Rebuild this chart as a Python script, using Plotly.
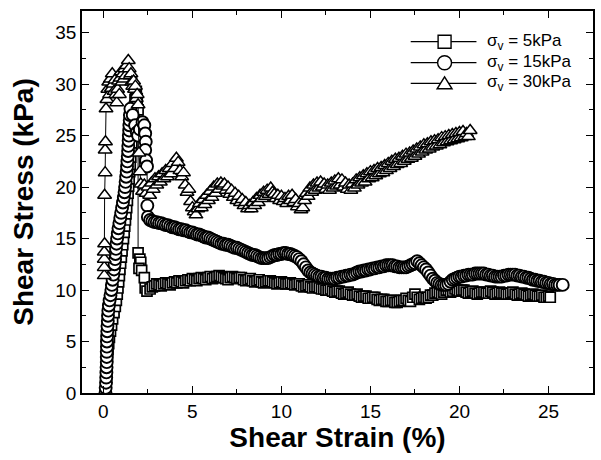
import plotly.graph_objects as go

# ---------------- data ----------------
# sigma_v = 5 kPa (squares)
sq_x = [0.15, 0.15, 0.16, 0.17, 0.19, 0.2, 0.23, 0.26, 0.3, 0.34, 0.4, 0.46, 0.52, 0.6, 0.67,
        0.73, 0.78, 0.82, 0.86, 0.9, 0.93, 0.97, 1.01, 1.05, 1.09, 1.13, 1.17, 1.2, 1.24, 1.27,
        1.31, 1.35, 1.39, 1.42, 1.45, 1.48, 1.51, 1.54, 1.57, 1.6, 1.63, 1.66, 1.69, 1.72, 1.75,
        1.78, 1.81, 1.85, 1.9, 1.95,
        1.95, 2.05, 2.1, 2.0, 2.15, 2.3, 2.35, 2.45,
        2.625, 2.75, 2.875, 3.0, 3.125, 3.25, 3.375, 3.5,
        3.625, 3.75, 3.875, 4.0, 4.125, 4.25, 4.375, 4.5,
        4.625, 4.75, 4.875, 5.0, 5.125, 5.25, 5.375, 5.5,
        5.625, 5.75, 5.875, 6.0, 6.125, 6.25, 6.375, 6.5,
        6.625, 6.75, 6.875, 7.0, 7.125, 7.25, 7.375, 7.5,
        7.625, 7.75, 7.875, 8.0, 8.125, 8.25, 8.375, 8.5,
        8.625, 8.75, 8.875, 9.0, 9.125, 9.25, 9.375, 9.5,
        9.625, 9.75, 9.875, 10.0, 10.125, 10.25, 10.375, 10.5,
        10.625, 10.75, 10.875, 11.0, 11.125, 11.25, 11.375, 11.5,
        11.625, 11.75, 11.875, 12.0, 12.125, 12.25, 12.375, 12.5,
        12.625, 12.75, 12.875, 13.0, 13.125, 13.25, 13.375, 13.5,
        13.625, 13.75, 13.875, 14.0, 14.125, 14.25, 14.375, 14.5,
        14.625, 14.75, 14.875, 15.0, 15.125, 15.25, 15.375, 15.5,
        15.625, 15.75, 15.875, 16.0, 16.125, 16.25, 16.375, 16.5,
        16.625, 16.75, 16.875, 17.0, 17.125, 17.25, 17.375, 17.5,
        17.625, 17.75, 17.875, 18.0, 18.125, 18.25, 18.375, 18.5,
        18.625, 18.75, 18.875, 19.0, 19.125, 19.25, 19.375, 19.5,
        19.625, 19.75, 19.875, 20.0, 20.125, 20.25, 20.375, 20.5,
        20.625, 20.75, 20.875, 21.0, 21.125, 21.25, 21.375, 21.5,
        21.625, 21.75, 21.875, 22.0, 22.125, 22.25, 22.375, 22.5,
        22.625, 22.75, 22.875, 23.0, 23.125, 23.25, 23.375, 23.5,
        23.625, 23.75, 23.875, 24.0, 24.125, 24.25, 24.375, 24.5,
        24.625, 24.75, 24.875, 25.0, 25.1]
sq_y = [0.0, 0.6, 1.2, 1.8, 2.4, 3.0, 3.6, 4.2, 4.8, 5.4, 6.0, 6.6, 7.2, 7.8, 8.4,
        9.0, 9.6, 10.2, 10.8, 11.4, 12.0, 12.6, 13.2, 13.8, 14.4, 15.0, 15.6, 16.2, 16.8, 17.4,
        18.0, 18.7, 19.4, 20.1, 20.8, 21.5, 22.2, 22.9, 23.6, 24.3, 25.0, 25.7, 26.4, 27.1, 27.8,
        28.5, 29.1, 29.3, 28.6, 27.5,
        13.6, 13.0, 12.7, 12.1, 11.9, 11.2, 10.2, 9.9,
        10.1, 10.3, 10.4, 10.6, 10.5, 10.4, 10.6, 10.7,
        10.6, 10.5, 10.7, 10.8, 10.7, 10.9, 10.8, 10.7,
        10.9, 11.0, 10.9, 11.1, 11.0, 10.9, 11.1, 11.2,
        11.1, 11.0, 11.2, 11.3, 11.1, 11.2, 11.3, 11.4,
        11.3, 11.2, 11.1, 11.0, 11.2, 11.3, 11.2, 11.1,
        11.2, 11.2, 11.0, 10.9, 11.0, 11.1, 10.9, 10.8,
        10.9, 11.0, 10.8, 10.7, 10.8, 10.9, 10.9, 10.8,
        10.7, 10.6, 10.7, 10.8, 10.7, 10.6, 10.6, 10.7,
        10.6, 10.5, 10.6, 10.6, 10.4, 10.3, 10.4, 10.5,
        10.3, 10.2, 10.3, 10.3, 10.2, 10.1, 10.1, 10.0,
        10.0, 10.1, 9.9, 9.8, 9.9, 9.9, 9.7, 9.6,
        9.7, 9.8, 9.6, 9.5, 9.5, 9.6, 9.4, 9.3,
        9.4, 9.4, 9.2, 9.2, 9.3, 9.3, 9.1, 9.0,
        9.1, 9.1, 8.9, 8.9, 9.0, 9.0, 8.8, 8.8,
        8.9, 9.0, 9.0, 9.2, 9.0, 8.9, 9.3, 9.6,
        9.3, 9.1, 9.2, 9.3, 9.2, 9.3, 9.5, 9.5,
        9.7, 9.8, 9.7, 9.6, 9.8, 10.0, 10.0, 9.8,
        9.9, 10.1, 10.0, 9.9, 10.0, 10.0, 9.8, 9.7,
        9.8, 9.9, 9.7, 9.6, 9.7, 9.8, 9.8, 9.7,
        9.7, 9.9, 9.8, 9.6, 9.7, 9.8, 9.7, 9.7,
        9.6, 9.6, 9.7, 9.8, 9.6, 9.5, 9.6, 9.7,
        9.6, 9.5, 9.4, 9.5, 9.6, 9.5, 9.4, 9.4,
        9.5, 9.3, 9.3, 9.4, 9.3]

# sigma_v = 15 kPa (circles)
ci_x = [0.12, 0.13, 0.15, 0.16, 0.17, 0.18, 0.19, 0.19, 0.19, 0.2, 0.2, 0.21, 0.22, 0.23, 0.25,
        0.26, 0.28, 0.31, 0.35, 0.4, 0.45, 0.48, 0.52, 0.56, 0.6, 0.63, 0.66, 0.68, 0.71, 0.74,
        0.77, 0.81, 0.85, 0.9, 0.95, 1.0, 1.05, 1.1, 1.15, 1.19, 1.22, 1.25, 1.28, 1.31, 1.33,
        1.35, 1.37, 1.39, 1.4, 1.42, 1.43, 1.45, 1.46, 1.48, 1.49, 1.52,
        1.65, 1.78, 1.88, 1.95, 2.05, 2.2, 2.3, 2.35, 2.38, 2.35, 2.4, 2.45, 2.47, 2.47, 2.5,
        2.625, 2.75, 2.875, 3.0, 3.125, 3.25, 3.375, 3.5,
        3.625, 3.75, 3.875, 4.0, 4.125, 4.25, 4.375, 4.5,
        4.625, 4.75, 4.875, 5.0, 5.125, 5.25, 5.375, 5.5,
        5.625, 5.75, 5.875, 6.0, 6.125, 6.25, 6.375, 6.5,
        6.625, 6.75, 6.875, 7.0, 7.125, 7.25, 7.375, 7.5,
        7.625, 7.75, 7.875, 8.0, 8.125, 8.25, 8.375, 8.5,
        8.625, 8.75, 8.875, 9.0, 9.125, 9.25, 9.375, 9.5,
        9.625, 9.75, 9.875, 10.0, 10.125, 10.25, 10.375, 10.5,
        10.625, 10.75, 10.875, 11.0, 11.125, 11.25, 11.375, 11.5,
        11.625, 11.75, 11.875, 12.0, 12.125, 12.25, 12.375, 12.5,
        12.625, 12.75, 12.875, 13.0, 13.125, 13.25, 13.375, 13.5,
        13.625, 13.75, 13.875, 14.0, 14.125, 14.25, 14.375, 14.5,
        14.625, 14.75, 14.875, 15.0, 15.125, 15.25, 15.375, 15.5,
        15.625, 15.75, 15.875, 16.0, 16.125, 16.25, 16.375, 16.5,
        16.625, 16.75, 16.875, 17.0, 17.125, 17.25, 17.375, 17.5,
        17.625, 17.75, 17.875, 18.0, 18.125, 18.25, 18.375, 18.5,
        18.625, 18.75, 18.875, 19.0, 19.125, 19.25, 19.375, 19.5,
        19.625, 19.75, 19.875, 20.0, 20.125, 20.25, 20.375, 20.5,
        20.625, 20.75, 20.875, 21.0, 21.125, 21.25, 21.375, 21.5,
        21.625, 21.75, 21.875, 22.0, 22.125, 22.25, 22.375, 22.5,
        22.625, 22.75, 22.875, 23.0, 23.125, 23.25, 23.375, 23.5,
        23.625, 23.75, 23.875, 24.0, 24.125, 24.25, 24.375, 24.5,
        24.625, 24.75, 24.875, 25.0, 25.125, 25.25, 25.375, 25.5,
        25.625, 25.8]
ci_y = [0.0, 0.5, 1.0, 1.5, 2.0, 2.5, 3.0, 3.5, 4.0, 4.5, 5.0, 5.5, 6.0, 6.5, 7.0,
        7.5, 8.0, 8.5, 9.0, 9.5, 10.0, 10.5, 11.0, 11.5, 12.0, 12.5, 13.0, 13.5, 14.0, 14.5,
        15.0, 15.5, 16.0, 16.5, 17.0, 17.5, 18.0, 18.5, 19.0, 19.5, 20.0, 20.5, 21.0, 21.5, 22.0,
        22.5, 23.0, 23.5, 24.0, 24.5, 25.0, 25.5, 26.0, 26.5, 27.0, 27.6,
        27.0, 26.0, 25.3, 25.0, 25.6, 26.3, 26.0, 25.2, 24.4, 23.6, 22.6, 22.0, 19.5, 18.2, 17.1,
        16.8, 16.7, 16.6, 16.6, 16.5, 16.5, 16.4, 16.3,
        16.3, 16.2, 16.1, 16.1, 16.0, 15.9, 15.9, 15.8,
        15.8, 15.7, 15.6, 15.6, 15.5, 15.4, 15.4, 15.3,
        15.2, 15.1, 15.1, 15.0, 14.9, 14.8, 14.7, 14.6,
        14.5, 14.5, 14.4, 14.4, 14.3, 14.2, 14.1, 14.1,
        14.0, 13.9, 13.8, 13.7, 13.6, 13.5, 13.4, 13.4,
        13.3, 13.2, 13.1, 13.1, 13.1, 13.1, 13.2, 13.3,
        13.4, 13.4, 13.5, 13.5, 13.6, 13.6, 13.5, 13.5,
        13.4, 13.3, 13.2, 13.0, 12.8, 12.5, 12.2, 11.9,
        11.7, 11.6, 11.5, 11.4, 11.3, 11.3, 11.2, 11.2,
        11.1, 11.1, 11.1, 11.1, 11.2, 11.2, 11.3, 11.3,
        11.4, 11.4, 11.5, 11.5, 11.6, 11.7, 11.8, 11.8,
        11.9, 11.9, 12.0, 12.0, 12.1, 12.1, 12.2, 12.2,
        12.3, 12.3, 12.4, 12.4, 12.4, 12.4, 12.3, 12.3,
        12.2, 12.2, 12.2, 12.2, 12.3, 12.4, 12.5, 12.6,
        12.8, 12.6, 12.4, 12.2, 12.0, 11.7, 11.4, 11.1,
        10.9, 10.7, 10.6, 10.5, 10.5, 10.5, 10.6, 10.8,
        11.0, 11.1, 11.2, 11.3, 11.3, 11.4, 11.4, 11.5,
        11.5, 11.5, 11.6, 11.6, 11.6, 11.6, 11.6, 11.5,
        11.5, 11.4, 11.4, 11.3, 11.3, 11.3, 11.3, 11.4,
        11.4, 11.5, 11.5, 11.5, 11.5, 11.4, 11.4, 11.3,
        11.3, 11.2, 11.2, 11.1, 11.0, 11.0, 10.9, 10.9,
        10.8, 10.8, 10.7, 10.7, 10.6, 10.6, 10.5, 10.5,
        10.5, 10.5]

# sigma_v = 30 kPa (triangles)
tr_x = [0.05, 0.05, 0.05, 0.05, 0.07, 0.07, 0.1, 0.1, 0.12, 0.15, 0.2, 0.25, 0.3, 0.35, 0.4,
        0.45, 0.5, 0.55, 0.6, 0.65, 0.7, 0.75, 0.8, 0.85, 0.9, 0.95, 1.0, 1.05, 1.1, 1.15,
        1.2, 1.25, 1.3, 1.4, 1.45, 1.5, 1.55, 1.6, 1.65, 1.7, 1.75, 1.8, 1.85, 1.9, 1.95,
        2.0, 2.05, 2.1, 2.2, 2.3, 2.4, 2.5, 2.6, 2.7, 2.8, 2.9, 3.0, 3.1, 3.2, 3.3, 3.4,
        3.5, 3.6, 3.7, 3.8, 3.9, 4.0, 4.1, 4.2, 4.3, 4.4, 4.5, 4.6, 4.7, 4.8, 4.9, 5.0,
        5.1, 5.2, 5.3, 5.4, 5.5, 5.6, 5.7, 5.8, 5.9, 6.0, 6.1, 6.2, 6.3, 6.4, 6.5, 6.6,
        6.7, 6.8, 6.9, 7.0, 7.1, 7.2, 7.3, 7.4, 7.5, 7.6, 7.7, 7.8, 7.9, 8.0, 8.1, 8.2,
        8.3, 8.4, 8.5, 8.6, 8.7, 8.8, 8.9, 9.0, 9.1, 9.2, 9.3, 9.4, 9.5, 9.6, 9.7, 9.8,
        9.9, 10.0, 10.1, 10.2, 10.3, 10.4, 10.5, 10.6, 10.7, 10.8, 10.9, 11.0, 11.1, 11.2,
        11.3, 11.4, 11.5, 11.6, 11.7, 11.8, 11.9, 12.0, 12.1, 12.2, 12.3, 12.4, 12.5, 12.6,
        12.7, 12.8, 12.9, 13.0, 13.1, 13.2, 13.3, 13.4, 13.5, 13.6, 13.7, 13.8, 13.9, 14.0,
        14.1, 14.2, 14.3, 14.4, 14.5, 14.6, 14.7, 14.8, 14.9, 15.0, 15.1, 15.2, 15.3, 15.4,
        15.5, 15.6, 15.7, 15.8, 15.9, 16.0, 16.1, 16.2, 16.3, 16.4, 16.5, 16.6, 16.7, 16.8,
        16.9, 17.0, 17.1, 17.2, 17.3, 17.4, 17.5, 17.6, 17.7, 17.8, 17.9, 18.0, 18.1, 18.2,
        18.3, 18.4, 18.5, 18.6, 18.7, 18.8, 18.9, 19.0, 19.1, 19.2, 19.3, 19.4, 19.5, 19.6,
        19.7, 19.8, 19.9, 20.0, 20.1, 20.2, 20.3, 20.4, 20.5, 20.6]
tr_y = [11.4, 12.2, 13.0, 13.7, 14.5, 19.2, 21.4, 23.6, 24.4, 27.6, 28.5, 29.5, 30.2, 29.0, 30.5,
        29.6, 31.0, 30.0, 29.3, 30.4, 29.0, 28.2, 29.5, 30.3, 29.0, 30.6, 31.2, 30.2, 31.0, 30.5,
        31.5, 30.8, 31.8, 32.3, 31.5, 30.8, 31.0, 30.2, 29.8, 30.3, 29.5, 29.8, 28.6, 29.0, 28.0,
        23.3, 21.5, 20.3, 19.6, 20.2, 19.4, 20.0, 19.2, 20.4, 19.8, 20.8, 20.2, 21.0, 20.5, 21.3, 20.8,
        21.6, 21.0, 21.8, 21.3, 22.3, 21.8, 22.8, 22.4, 21.6, 21.0, 21.4, 20.2, 19.5, 19.8, 18.6, 18.0,
        17.6, 17.3, 17.9, 18.4, 18.0, 18.8, 18.3, 19.2, 18.7, 19.6, 19.0, 20.0, 19.4, 20.3, 19.8, 20.4,
        20.1, 20.3, 19.7, 20.0, 19.3, 19.7, 19.0, 19.4, 18.7, 19.1, 18.5, 18.8, 18.2, 18.5, 17.9, 18.2,
        17.9, 18.5, 18.2, 18.9, 18.5, 19.2, 18.9, 19.5, 19.1, 19.7, 19.3, 19.9, 19.5, 19.3, 18.9, 19.2,
        18.7, 19.1, 18.6, 18.9, 18.4, 19.1, 18.7, 19.2, 18.5, 18.8, 18.1, 18.4, 17.8, 18.0,
        18.7, 19.4, 19.1, 19.9, 19.5, 20.2, 19.7, 20.4, 19.9, 20.5, 20.0, 20.3, 19.8, 20.2,
        19.7, 20.4, 19.9, 20.6, 20.1, 20.8, 20.2, 20.7, 20.0, 20.4, 19.8, 20.2, 19.7, 20.3,
        19.9, 20.7, 20.2, 20.9, 20.4, 21.1, 20.5, 21.3, 20.8, 21.5, 20.9, 21.6, 21.1, 21.8,
        21.3, 21.9, 21.4, 22.1, 21.6, 22.3, 21.8, 22.5, 22.0, 22.7, 22.2, 22.8, 22.3, 23.0,
        22.5, 23.2, 22.7, 23.3, 22.8, 23.5, 23.0, 23.7, 23.2, 23.9, 23.4, 24.1, 23.6, 24.2,
        23.7, 24.4, 23.9, 24.5, 24.0, 24.6, 24.1, 24.8, 24.3, 24.9, 24.4, 25.0, 24.5, 25.1,
        24.6, 25.2, 24.7, 25.3, 24.8, 25.4, 24.9, 25.2, 24.9, 25.5]

series_names = ["σ<sub>v</sub> = 5kPa", "σ<sub>v</sub> = 15kPa", "σ<sub>v</sub> = 30kPa"]
x_ticks = [0, 5, 10, 15, 20, 25]
y_ticks = [0, 5, 10, 15, 20, 25, 30, 35]

FONT = "Arial, 'Liberation Sans', sans-serif"

fig = go.Figure()
for xs, ys, sym, size, lw, name in [
    (sq_x, sq_y, "square", 10, 1.7, series_names[0]),
    (ci_x, ci_y, "circle", 12, 1.9, series_names[1]),
    (tr_x, tr_y, "triangle-up", 12, 1.5, series_names[2]),
]:
    fig.add_trace(go.Scatter(
        x=xs, y=ys, mode="lines+markers", name=name, showlegend=False,
        line=dict(color="black", width=1),
        marker=dict(symbol=sym, size=size, color="white",
                    line=dict(color="black", width=lw)),
    ))

# ---------------- layout ----------------
W, H = 601, 460
ML, MR, MT, MB = 82, 6, 11, 67
PW, PH = W - ML - MR, H - MT - MB


def px_x(px):
    return (px - ML) / PW


def px_y(py):
    return (H - MB - py) / PH


axis_common = dict(
    showline=True, linecolor="black", linewidth=1.5, mirror="allticks",
    ticks="inside", ticklen=7, tickwidth=1.3, tickcolor="black",
    showgrid=False, zeroline=False,
    tickfont=dict(family=FONT, size=19, color="black"),
)

fig.update_layout(
    width=W, height=H,
    margin=dict(l=ML, r=MR, t=MT, b=MB, pad=0),
    paper_bgcolor="white", plot_bgcolor="white",
    xaxis=dict(range=[-1.2, 27.5], tickvals=x_ticks,
               minor=dict(tickvals=[2.5, 7.5, 12.5, 17.5, 22.5, 27.5], ticks="inside",
                          ticklen=4, tickcolor="black", tickwidth=1.2),
               title=dict(text="<b>Shear Strain (%)</b>", standoff=3,
                          font=dict(family=FONT, size=28, color="black")),
               **axis_common),
    yaxis=dict(range=[0, 37.1], tickvals=y_ticks,
               minor=dict(tickvals=[2.5, 7.5, 12.5, 17.5, 22.5, 27.5, 32.5], ticks="inside",
                          ticklen=4, tickcolor="black", tickwidth=1.2),
               title=dict(text="<b>Shear Stress (kPa)</b>", standoff=14,
                          font=dict(family=FONT, size=28, color="black")),
               **axis_common),
)

# ---------------- hand-drawn legend (matches the original's long sample lines) ----------------
rows_py = [41.7, 62.7, 83.3]
line_x0, line_x1, mark_x, text_x = 412, 478, 446, 487
shapes = []
annots = []
for i, py in enumerate(rows_py):
    shapes.append(dict(type="line", xref="paper", yref="paper",
                       x0=px_x(line_x0), x1=px_x(line_x1), y0=px_y(py), y1=px_y(py),
                       line=dict(color="black", width=1.3)))
    h = 6.5
    if i == 0:
        shapes.append(dict(type="rect", xref="paper", yref="paper",
                           x0=px_x(mark_x - h), x1=px_x(mark_x + h),
                           y0=px_y(py + h), y1=px_y(py - h),
                           fillcolor="white", line=dict(color="black", width=1.4)))
    elif i == 1:
        shapes.append(dict(type="circle", xref="paper", yref="paper",
                           x0=px_x(mark_x - 7), x1=px_x(mark_x + 7),
                           y0=px_y(py + 7), y1=px_y(py - 7),
                           fillcolor="white", line=dict(color="black", width=1.4)))
    else:
        p = "M {:.5f},{:.5f} L {:.5f},{:.5f} L {:.5f},{:.5f} Z".format(
            px_x(mark_x - 7.5), px_y(py + 5.5), px_x(mark_x + 7.5), px_y(py + 5.5),
            px_x(mark_x), px_y(py - 6.5))
        shapes.append(dict(type="path", xref="paper", yref="paper", path=p,
                           fillcolor="white", line=dict(color="black", width=1.4)))
    annots.append(dict(xref="paper", yref="paper", x=px_x(text_x), y=px_y(py),
                       xanchor="left", yanchor="middle", showarrow=False,
                       text=series_names[i],
                       font=dict(family=FONT, size=17, color="black")))
fig.update_layout(shapes=shapes, annotations=annots)

fig.write_html("out.html", config={"displayModeBar": False},
               post_script="document.body.style.margin='0';")
